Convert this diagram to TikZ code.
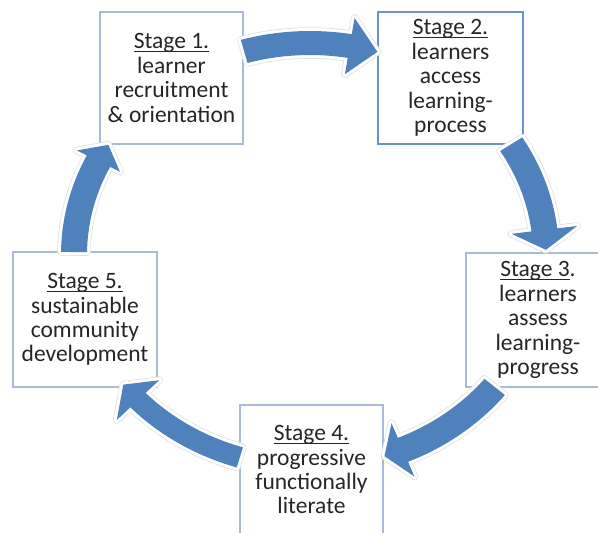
\documentclass[tikz,border=0pt]{standalone}
\usepackage{fontspec}
\setmainfont{Carlito}
\definecolor{arrowblue}{HTML}{4F81BD}
\definecolor{boxline}{HTML}{A9BBDB}
\definecolor{boxlinedark}{HTML}{6A92CF}
\newcommand\stul[1]{\setbox0\hbox{#1}\rlap{\rule[-3.4pt]{\wd0}{1.5pt}}\box0}
\def\ecx{310}\def\ecy{255}\def\erx{236}\def\ery{212}
% curved block arrow along the ellipse: start angle, head-back angle, tip angle, body half-width, head half-width
\newcommand\blockarrow[5]{%
 \fill[arrowblue,
   preaction={draw=black!12, line width=7.5, line join=round},
   preaction={draw=white, line width=6, line join=round}]
   plot[domain=#1:#2, samples=30] ({\ecx+(\erx+#4)*cos(\x)},{\ecy+(\ery+#4)*sin(\x)})
   -- ({\ecx+(\erx+#5)*cos(#2)},{\ecy+(\ery+#5)*sin(#2)})
   -- ({\ecx+\erx*cos(#3)},{\ecy+\ery*sin(#3)})
   -- ({\ecx+(\erx-#5)*cos(#2)},{\ecy+(\ery-#5)*sin(#2)})
   -- plot[domain=#2:#1, samples=30] ({\ecx+(\erx-#4)*cos(\x)},{\ecy+(\ery-#4)*sin(\x)})
   -- cycle;}
\tikzset{
  stagebox/.style={draw=boxline, line width=1.6, fill=white, rectangle, inner sep=0pt,
    align=center, font=\fontsize{23.5}{24.4}\selectfont, text=black!85},
}
\begin{document}
\begin{tikzpicture}[x=1pt,y=-1pt]
\useasboundingbox (0,0) rectangle (598,533);
\fill[white] (0,0) rectangle (598,533);
% boxes
\node[stagebox, minimum width=143, minimum height=132] (s1) at (171.5,78)
  {\stul{Stage 1.}\\learner\\recruitment\\\& orientation};
\node[stagebox, draw=boxlinedark, minimum width=145, minimum height=132] (s2) at (450.5,78)
  {\stul{Stage 2.}\\learners\\access\\learning-\\process};
\node[stagebox, minimum width=144, minimum height=134] (s3) at (538,320)
  {\stul{Stage 3}.\\learners\\assess\\learning-\\progress};
\node[stagebox, minimum width=143, minimum height=129.5] (s4) at (311.5,469.75)
  {\stul{Stage 4.}\\progressive\\functionally\\literate};
\node[stagebox, minimum width=144, minimum height=135] (s5) at (85,319.5)
  {\stul{Stage 5.}\\sustainable\\community\\development};
% curved block arrows s1->s2->s3->s4->s5->s1
\blockarrow{-106.2}{-80.3}{-73.4}{12}{28.5}
\blockarrow{-31.5}{-6.8}{-1.4}{13}{33}
\blockarrow{38.5}{66.8}{71.6}{13}{29}
\blockarrow{107.3}{136.8}{142.3}{10.5}{29}
\blockarrow{180.8}{206.3}{211.3}{13}{24}
\end{tikzpicture}
\end{document}
